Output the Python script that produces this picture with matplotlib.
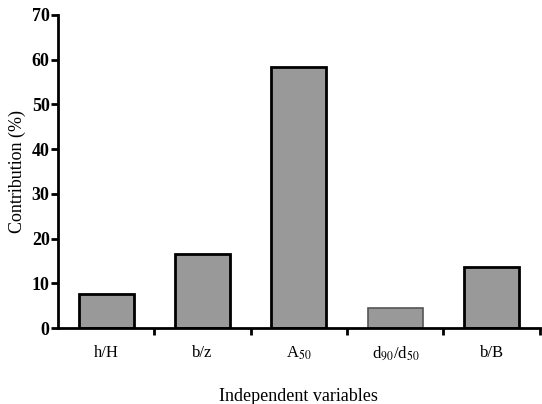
import matplotlib.pyplot as plt
import numpy as np

plt.rcParams['font.family'] = 'Liberation Serif'
plt.rcParams['mathtext.fontset'] = 'stix'

categories = ['h/H', 'b/z', r'A$_{50}$', r'd$_{90}$/d$_{50}$', 'b/B']
contrib = [7.6, 16.6, 58.4, 4.5, 13.7]

fig = plt.figure(figsize=(5.42, 4.04), dpi=100)
ax = fig.add_axes([0.107, 0.188, 0.889, 0.775])

x = np.arange(len(categories)) + 0.5
edges = ['black', 'black', 'black', '#555555', 'black']
lws = [2, 2, 2, 1.2, 2]
for xi, v, ec, lw in zip(x, contrib, edges, lws):
    ax.bar(xi, v, width=0.57, color='#999999', edgecolor=ec, linewidth=lw, zorder=2)

ax.set_xlim(0, len(categories))
ax.set_ylim(0, 70)
ax.set_yticks(np.arange(0, 71, 10))

ax.set_xticks(np.arange(1, len(categories) + 1))
ax.set_xticklabels([])
ax.set_xticks(x, minor=True)
ax.set_xticklabels(categories, minor=True, fontsize=12)
ax.tick_params(axis='x', which='minor', length=0, pad=12)
ax.tick_params(axis='x', which='major', direction='out', length=5, width=2)
ax.tick_params(axis='y', direction='out', length=5, width=2, labelsize=13, pad=1)
for lab in ax.get_yticklabels():
    lab.set_fontweight('bold')

for s in ['top', 'right']:
    ax.spines[s].set_visible(False)
for s in ['left', 'bottom']:
    ax.spines[s].set_linewidth(2)

ax.set_ylabel('Contribution (%)', fontsize=13, labelpad=4)
ax.set_xlabel('Independent variables', fontsize=13, labelpad=18)

plt.savefig('out.png', dpi=100)
